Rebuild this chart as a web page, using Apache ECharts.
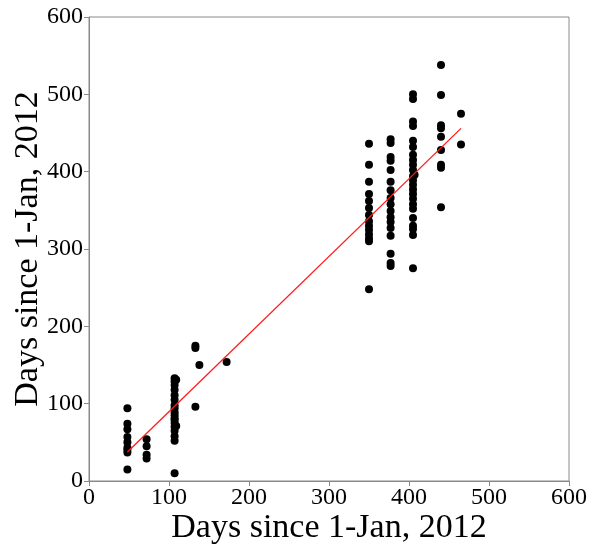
<!DOCTYPE html>
<html>
<head>
<meta charset="utf-8">
<script src="https://cdn.jsdelivr.net/npm/echarts@6/dist/echarts.min.js"></script>
<style>
html,body{margin:0;padding:0;background:#fff;}
#chart{width:592px;height:556px;}
</style>
</head>
<body>
<div id="chart"></div>
<script>
// Observed day pairs (x: day since 1-Jan-2012, y: day since 1-Jan-2012)
const obsX = [
  48,48,48,48,48,48,48,48,48,
  72,72,72,72,
  107,107,107,107,107,107,107,107,107,107,107,107,107,107,107,107,107,107,109,109,
  133,133,133,138,172,
  350,350,350,350,350,350,350,350,350,350,350,350,350,350,
  377,377,377,377,377,377,377,377,377,377,377,377,377,377,377,377,377,
  405,405,405,405,405,405,405,405,405,405,405,405,405,405,405,405,405,405,405,405,405,405,405,407,
  440,440,440,440,440,440,440,440,440,
  465,465
];
const obsY = [
  94,74,67,57,50,43,37,15,40,
  54,45,34,29,
  133,129,124,118,111,105,98,94,89,85,81,79,75,70,65,58,52,10,131,71,
  175,172,96,150,154,
  436,409,387,371,362,353,344,336,330,325,319,314,310,248,
  442,437,419,414,402,387,376,366,358,349,341,335,327,317,294,282,278,
  500,494,465,459,440,432,422,415,409,402,394,389,383,377,371,365,358,352,340,326,318,275,330,396,
  538,499,460,456,445,428,409,405,354,
  475,435
];
// Fitted trend line end points
const fitX = [48, 465];
const fitY = [37.5, 456];

const axisTicks = [0, 100, 200, 300, 400, 500, 600];
const axisTitle = 'Days since 1-Jan, 2012';

const points = obsX.map((x, i) => [x, obsY[i]]);
const fitLine = fitX.map((x, i) => [x, fitY[i]]);

const font = 'Liberation Serif';
const axisColor = '#8a8a8a';

const chart = echarts.init(document.getElementById('chart'), null, {renderer: 'canvas'});
chart.setOption({
  animation: false,
  backgroundColor: '#fff',
  grid: {
    left: 89, right: 23, top: 17, bottom: 75,
    containLabel: false, outerBoundsMode: 'none',
    show: true, borderColor: axisColor, borderWidth: 1
  },
  xAxis: {
    type: 'value', min: axisTicks[0], max: axisTicks[axisTicks.length - 1], interval: 100,
    name: axisTitle, nameLocation: 'middle', nameGap: 30, nameMoveOverlap: false,
    nameTextStyle: {fontFamily: font, fontSize: 34, color: '#000'},
    axisLine: {show: true, lineStyle: {color: axisColor, width: 1}},
    axisTick: {show: true, length: 5, lineStyle: {color: axisColor}},
    axisLabel: {fontFamily: font, fontSize: 24, color: '#000', margin: 5},
    splitLine: {show: false}
  },
  yAxis: {
    type: 'value', min: axisTicks[0], max: axisTicks[axisTicks.length - 1], interval: 100,
    name: axisTitle, nameLocation: 'middle', nameGap: 44, nameMoveOverlap: false,
    nameTextStyle: {fontFamily: font, fontSize: 34, color: '#000'},
    axisLine: {show: true, lineStyle: {color: axisColor, width: 1}},
    axisTick: {show: true, length: 5, lineStyle: {color: axisColor}},
    axisLabel: {fontFamily: font, fontSize: 24, color: '#000', margin: 6},
    splitLine: {show: false}
  },
  series: [
    {
      type: 'scatter', data: points, symbol: 'circle', symbolSize: 8,
      itemStyle: {color: '#000', opacity: 1}, z: 2
    },
    {
      type: 'line', data: fitLine, showSymbol: false, symbol: 'none',
      lineStyle: {color: '#ff1a1a', width: 1.3}, z: 3
    }
  ]
});
</script>
</body>
</html>
